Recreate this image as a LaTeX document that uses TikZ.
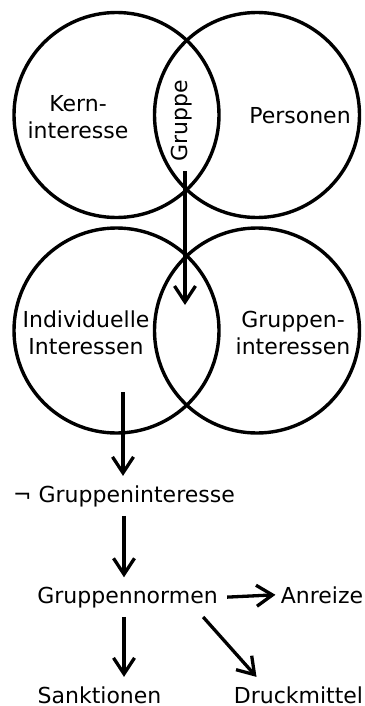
\documentclass[tikz,border=0pt]{standalone}
\usepackage{fontspec}
\setmainfont{DejaVu Sans}
\usetikzlibrary{arrows.meta, positioning}

\tikzset{
  venn/.style={draw, circle, line width=1.7pt, minimum size=102.5pt, inner sep=0pt},
  txt/.style={inner sep=4.5pt, align=center, font=\fontsize{11}{13.5}\selectfont},
  arr/.style={-{Straight Barb[length=8pt,width=10.5pt]}, line width=1.65pt},
}

\begin{document}
\begin{tikzpicture}[x=0.5pt, y=-0.5pt]
\useasboundingbox (0,0) rectangle (364,706);

% Top circles - group as overlap
\node[venn] (kern) at (116.5,115) {};
\node[venn] (pers) at (257,115) {};
\node[txt] (kerntxt) at (78,117) {Kern-\\interesse};
\node[txt, anchor=base] (perstxt) at (300,124) {Personen};
\node[txt, rotate=90] (gruppe) at (182,121) {Gruppe};

% Bottom circles - interests
\node[venn] (indiv) at (116.5,330.5) {};
\node[venn] (grint) at (257,330.5) {};
\node[txt] (indivtxt) at (86,333) {Individuelle\\Interessen};
\node[txt] (grinttxt) at (293,333) {Gruppen-\\interessen};

% Chain below
\node[txt, anchor=base] (negg) at (124,502) {¬ Gruppeninteresse};
\node[txt, anchor=base] (gnorm) at (127.5,603) {Gruppennormen};
\node[txt, anchor=base] (anreiz) at (322,603) {Anreize};
\node[txt, anchor=base] (sankt) at (99.5,703) {Sanktionen};
\node[txt, anchor=base] (druck) at (298.5,703) {Druckmittel};

% Arrows
\coordinate (g1) at (185,171);
\coordinate (g2) at (185,305);
\draw[arr] (g1) -- (g2);
\coordinate (i1) at (123,392);
\draw[arr] (i1) -- (i1 |- negg.north);
\draw[arr] (negg.south) -- (negg.south |- gnorm.north);
\draw[arr] (gnorm.east) -- ([xshift=2pt]anreiz.west);
\draw[arr] (negg.south |- gnorm.south) -- (negg.south |- sankt.north);
\draw[arr] ([xshift=-12pt]gnorm.south east) -- ([xshift=16pt]druck.north west);
\end{tikzpicture}
\end{document}
